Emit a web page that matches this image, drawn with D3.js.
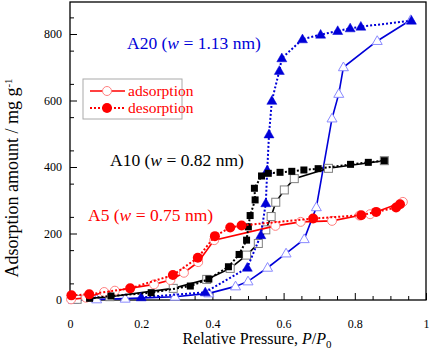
<!DOCTYPE html>
<html><head><meta charset="utf-8">
<script src="https://cdn.jsdelivr.net/npm/d3@7"></script>
<style>body{margin:0;background:#fff}svg{display:block}</style>
</head><body>
<script>
// ---- data ----
const xTicks = [0, 0.2, 0.4, 0.6, 0.8, 1];
const xTickLabels = ["0", "0.2", "0.4", "0.6", "0.8", "1"];
const yTicks = [0, 200, 400, 600, 800];
const yTickLabels = ["0", "200", "400", "600", "800"];

const a20AdsP = [0.01, 0.075, 0.155, 0.295, 0.39, 0.465, 0.5, 0.555, 0.607, 0.658, 0.692, 0.736, 0.755, 0.768, 0.863, 0.957];
const a20AdsV = [0, 2, 4, 10, 20, 41, 56, 97, 140, 183, 279, 546, 620, 700, 779, 842];
const a20DesP = [0.2, 0.38, 0.498, 0.536, 0.55, 0.554, 0.559, 0.567, 0.588, 0.595, 0.653, 0.704, 0.752, 0.787, 0.817, 0.959];
const a20DesV = [8, 23, 97, 195, 291, 390, 498, 599, 689, 727, 784, 798, 809, 817, 822, 840];

const a10AdsP = [0.02, 0.112, 0.29, 0.384, 0.45, 0.496, 0.529, 0.55, 0.565, 0.578, 0.602, 0.63, 0.726, 0.883];
const a10AdsV = [2, 10, 35, 62, 95, 135, 170, 211, 251, 294, 331, 365, 396, 419];
const a10DesP = [0.055, 0.115, 0.228, 0.338, 0.39, 0.445, 0.475, 0.496, 0.501, 0.506, 0.52, 0.518, 0.538, 0.557, 0.59, 0.623, 0.657, 0.697, 0.788, 0.838, 0.883];
const a10DesV = [5, 12, 22, 42, 63, 100, 137, 180, 220, 254, 301, 336, 373, 381, 384, 387, 391, 395, 408, 414, 419];

const a5AdsP = [0.003, 0.045, 0.096, 0.126, 0.236, 0.282, 0.32, 0.36, 0.405, 0.577, 0.648, 0.736, 0.813, 0.843, 0.935];
const a5AdsV = [2, 7, 24, 28, 47, 60, 82, 114, 180, 223, 235, 238, 254, 258, 295];
const a5DesP = [0.004, 0.054, 0.169, 0.289, 0.359, 0.407, 0.45, 0.482, 0.683, 0.818, 0.86, 0.916, 0.927];
const a5DesV = [14, 17, 35, 75, 127, 192, 218, 224, 245, 255, 265, 278, 288];

const zip = (p, v) => p.map((d, i) => [d, v[i]]);

// ---- layout ----
const W = 430, H = 350;
const svg = d3.select("body").append("svg").attr("width", W).attr("height", H);
const x = d3.scaleLinear().domain([0, 1]).range([70, 426]);
const y = d3.scaleLinear().domain([0, 800]).range([300, 34]);
const serif = "Liberation Serif, Times New Roman, Times, DejaVu Serif, serif";

// axes (ticks inside)
const xMinor = d3.range(0, 1.0001, 0.05).filter(v => Math.abs(v*5 - Math.round(v*5)) > 1e-6);
const yMinor = d3.range(50, 851, 100);

svg.append("g").attr("transform", "translate(0,300)")
  .call(d3.axisBottom(x).tickValues(xTicks).tickFormat((d, i) => xTickLabels[i]).tickSize(-7).tickPadding(19));
svg.append("g").attr("transform", "translate(0,300)")
  .call(d3.axisBottom(x).tickValues(xMinor).tickFormat("").tickSize(-4));
svg.append("g").attr("transform", "translate(70,0)")
  .call(d3.axisLeft(y).tickValues(yTicks).tickFormat((d, i) => yTickLabels[i]).tickSize(-7).tickPadding(8));
svg.append("g").attr("transform", "translate(70,0)")
  .call(d3.axisLeft(y).tickValues(yMinor).tickFormat("").tickSize(-4));
svg.selectAll("g").attr("font-family", null);
svg.selectAll(".domain").remove();
svg.selectAll(".tick line").attr("stroke", "#000").attr("stroke-width", 1);
svg.selectAll(".tick text").style("font-family", serif).attr("font-size", 12).attr("fill", "#000");

// frame
svg.append("rect").attr("x", 70).attr("y", 2).attr("width", 356).attr("height", 298)
  .attr("fill", "none").attr("stroke", "#000").attr("stroke-width", 1.3);

// axis titles
const xt = svg.append("text").attr("x", 257).attr("y", 344).attr("text-anchor", "middle")
  .style("font-family", serif).attr("font-size", 16).attr("fill", "#000");
xt.append("tspan").text("Relative Pressure, ");
xt.append("tspan").attr("font-style", "italic").text("P");
xt.append("tspan").text("/");
xt.append("tspan").attr("font-style", "italic").text("P");
xt.append("tspan").attr("font-size", 11).attr("dy", 4).text("0");

const yt = svg.append("text").attr("transform", "translate(18,178) rotate(-90)").attr("text-anchor", "middle")
  .style("font-family", serif).attr("font-size", 18).attr("fill", "#000");
yt.append("tspan").text("Adsorption amount / mg g");
yt.append("tspan").attr("font-size", 11).attr("dy", -6).text("-1");

// series drawing
const line = d3.line().x(d => x(d[0])).y(d => y(d[1]));
const plot = svg.append("g");

function drawSeries(data, color, dotted, markerFn) {
  plot.append("path").datum(data).attr("d", line).attr("fill", "none")
    .attr("stroke", color).attr("stroke-width", dotted ? 2 : 1.6)
    .attr("stroke-dasharray", dotted ? "2,2" : null);
  const g = plot.append("g");
  data.forEach(d => markerFn(g, x(d[0]), y(d[1])));
}
const triPath = s => { const h = s * 0.87; return `M0,${-h*0.6}L${s/2},${h*0.4}L${-s/2},${h*0.4}Z`; };
const openTri = (g, cx, cy) => g.append("path").attr("d", triPath(10)).attr("transform", `translate(${cx},${cy})`)
  .attr("fill", "#fff").attr("stroke", "#8a8aff").attr("stroke-width", 1);
const fillTri = (g, cx, cy) => g.append("path").attr("d", triPath(10)).attr("transform", `translate(${cx},${cy})`)
  .attr("fill", "#0000d8").attr("stroke", "#0000d8").attr("stroke-width", 0.5);
const openSq = (g, cx, cy) => g.append("rect").attr("x", cx - 4).attr("y", cy - 4).attr("width", 8).attr("height", 8)
  .attr("fill", "#fff").attr("stroke", "#808080").attr("stroke-width", 1);
const fillSq = (g, cx, cy) => g.append("rect").attr("x", cx - 3.5).attr("y", cy - 3.5).attr("width", 7).attr("height", 7)
  .attr("fill", "#000");
const openCirc = (g, cx, cy) => g.append("circle").attr("cx", cx).attr("cy", cy).attr("r", 4.5)
  .attr("fill", "#fff").attr("stroke", "#ff8080").attr("stroke-width", 1);
const fillCirc = (g, cx, cy) => g.append("circle").attr("cx", cx).attr("cy", cy).attr("r", 5)
  .attr("fill", "#ff0000");

drawSeries(zip(a20AdsP, a20AdsV), "#0000d8", false, openTri);
drawSeries(zip(a10AdsP, a10AdsV), "#000", false, openSq);
drawSeries(zip(a5AdsP, a5AdsV), "#ff0000", false, openCirc);
drawSeries(zip(a20DesP, a20DesV), "#0000d8", true, fillTri);
drawSeries(zip(a10DesP, a10DesV), "#000", true, fillSq);
drawSeries(zip(a5DesP, a5DesV), "#ff0000", true, fillCirc);

// annotations
function label(xp, yp, color, name, wval) {
  const t = svg.append("text").attr("x", xp).attr("y", yp).style("font-family", serif)
    .attr("font-size", 17.5).attr("fill", color);
  t.append("tspan").text(name + " (");
  t.append("tspan").attr("font-style", "italic").text("w");
  t.append("tspan").text(" = " + wval + " nm)");
}
label(127, 49, "#0000d8", "A20", "1.13");
label(110, 166, "#000", "A10", "0.82");
label(88, 221, "#ff0000", "A5", "0.75");

// legend
const lg = svg.append("g");
lg.append("rect").attr("x", 83).attr("y", 79).attr("width", 99).attr("height", 40)
  .attr("fill", "#fff").attr("stroke", "#aaa").attr("stroke-width", 1);
const legItems = [{t: "adsorption", dotted: false, y: 91}, {t: "desorption", dotted: true, y: 108}];
legItems.forEach(it => {
  lg.append("line").attr("x1", 90).attr("x2", 125).attr("y1", it.y).attr("y2", it.y)
    .attr("stroke", "#ff0000").attr("stroke-width", it.dotted ? 2 : 1.6)
    .attr("stroke-dasharray", it.dotted ? "2,2" : null);
  (it.dotted ? fillCirc : openCirc)(lg, 107, it.y);
  lg.append("text").attr("x", 128).attr("y", it.y + 5).style("font-family", serif)
    .attr("font-size", 15.5).attr("fill", "#ff0000").text(it.t);
});
</script>
</body></html>
